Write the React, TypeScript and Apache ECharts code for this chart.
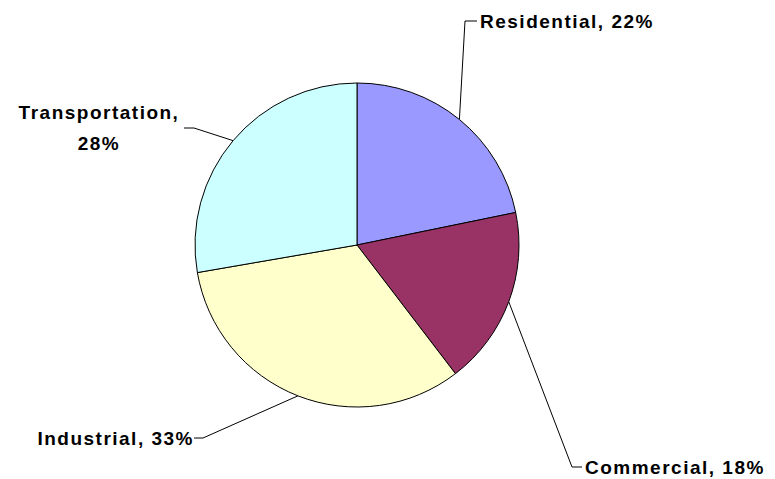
import React, { useEffect, useRef } from "react";
import * as echarts from "echarts";

const categories = ["Residential", "Commercial", "Industrial", "Transportation"];
const shares = [22, 18, 33, 28];
const sliceColors = ["#9999FF", "#993366", "#FFFFCC", "#CCFFFF"];

// label placement (pixel layout) and leader-line bends
const labelSpots = [
  { x: 480, y: 21, align: "left", wrap: false, bend: [465, 21], end: [477, 21] },
  { x: 585, y: 467, align: "left", wrap: false, bend: [572, 467], end: [582, 467] },
  { x: 194, y: 438, align: "right", wrap: false, bend: [203, 438], end: [194, 438] },
  { x: 99, y: 128, align: "center", wrap: true, bend: [194, 128], end: [184, 128] },
];

export default function App() {
  const ref = useRef<HTMLDivElement>(null);
  useEffect(() => {
    if (!ref.current) return;
    const chart = echarts.init(ref.current, null, { renderer: "svg" });
    chart.setOption({
      animation: false,
      backgroundColor: "#ffffff",
      series: [
        {
          type: "pie",
          center: [357, 245],
          radius: 162,
          startAngle: 90,
          clockwise: true,
          avoidLabelOverlap: false,
          data: categories.map((name, i) => ({
            name,
            value: shares[i],
            itemStyle: { color: sliceColors[i] },
          })),
          itemStyle: { borderColor: "#000000", borderWidth: 1 },
          emphasis: { disabled: true },
          label: {
            show: true,
            position: "outside",
            color: "#000000",
            fontFamily: "'Liberation Sans', Arial, sans-serif",
            fontWeight: "bold",
            fontSize: 19,
            lineHeight: 31,
            formatter: (p: any) =>
              labelSpots[p.dataIndex].wrap
                ? `${p.name},\n${p.value}%`
                : `${p.name}, ${p.value}%`,
          },
          labelLine: {
            show: true,
            length: 10,
            length2: 10,
            lineStyle: { color: "#000000", width: 1 },
          },
          labelLayout: (params: any) => {
            const s = labelSpots[params.dataIndex];
            const start = params.labelLinePoints ? params.labelLinePoints[0] : s.bend;
            return {
              x: s.x,
              y: s.y,
              align: s.align,
              verticalAlign: "middle",
              labelLinePoints: [start, s.bend, s.end],
            };
          },
        },
      ],
    });
    return () => chart.dispose();
  }, []);
  return (
    <div
      ref={ref}
      style={{
        position: "absolute",
        left: 0,
        top: 0,
        width: 775,
        height: 479,
        letterSpacing: "1.5px",
      }}
    />
  );
}
